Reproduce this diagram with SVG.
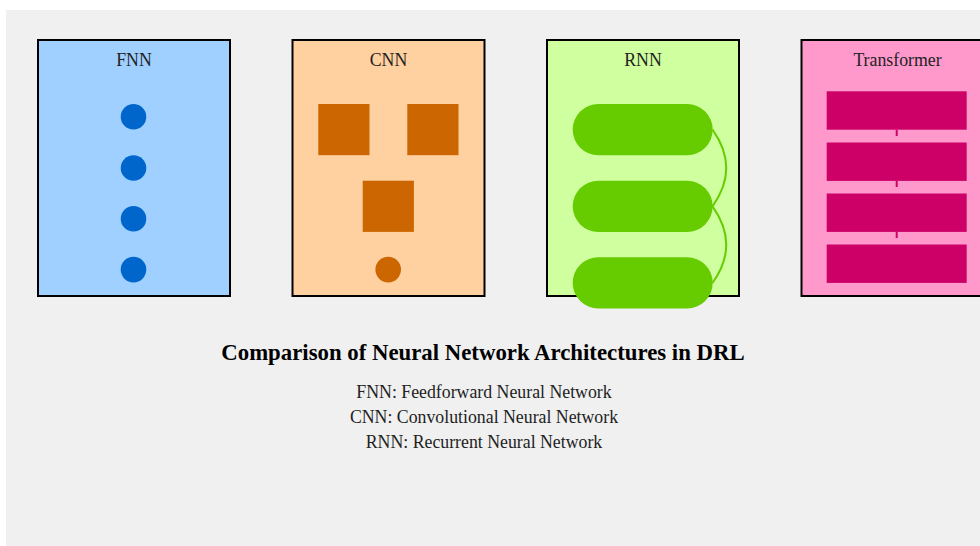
<svg xmlns="http://www.w3.org/2000/svg" width="980" height="546" viewBox="0 0 980 546">
<style>
.box{stroke:#000;stroke-width:2}
.lbl{font-family:"Liberation Serif","Times New Roman",serif;font-size:17.8px;fill:#222;text-anchor:middle}
.title{font-family:"Liberation Serif","Times New Roman",serif;font-size:22.8px;font-weight:bold;fill:#000;text-anchor:middle}
.sub{font-family:"Liberation Serif","Times New Roman",serif;font-size:17.8px;fill:#222;text-anchor:middle}
.fnn{fill:#0066cc}
.cnn{fill:#cc6600}
.rnn{fill:#66cc00}
.tr{fill:#cc0066}
</style>
<rect x="0" y="0" width="980" height="546" fill="#ffffff"/>
<rect x="6" y="10" width="980" height="536" fill="#f0f0f0"/>
<g id="fnn">
<rect class="box" x="38" y="40" width="192" height="256" fill="#a0d0ff"/>
<text class="lbl" x="134" y="66">FNN</text>
<circle class="fnn" cx="133.5" cy="116.8" r="12.8"/>
<circle class="fnn" cx="133.5" cy="168" r="12.8"/>
<circle class="fnn" cx="133.5" cy="218.8" r="12.8"/>
<circle class="fnn" cx="133.5" cy="269.6" r="12.8"/>
</g>
<g id="cnn">
<rect class="box" x="292.5" y="40" width="192" height="256" fill="#ffd0a0"/>
<text class="lbl" x="388.5" y="66">CNN</text>
<rect class="cnn" x="318.3" y="104" width="51.2" height="51.2"/>
<rect class="cnn" x="407.3" y="104" width="51.2" height="51.2"/>
<rect class="cnn" x="362.7" y="180.7" width="51.2" height="51.2"/>
<circle class="cnn" cx="388.2" cy="269.6" r="12.8"/>
</g>
<g id="rnn">
<rect class="box" x="547" y="40" width="192" height="256" fill="#d0ffa0"/>
<text class="lbl" x="643" y="66">RNN</text>
<rect class="rnn" x="572.7" y="104" width="140" height="51.2" rx="25.6"/>
<rect class="rnn" x="572.7" y="180.7" width="140" height="51.2" rx="25.6"/>
<rect class="rnn" x="572.7" y="257.3" width="140" height="51.2" rx="25.6"/>
</g>
<g id="transformer">
<rect class="box" x="801.5" y="40" width="192" height="256" fill="#ff99cc"/>
<text class="lbl" x="897.5" y="66">Transformer</text>
<rect class="tr" x="826.7" y="91.3" width="140" height="38.4"/>
<rect class="tr" x="826.7" y="142.5" width="140" height="38.4"/>
<rect class="tr" x="826.7" y="193.5" width="140" height="38.4"/>
<rect class="tr" x="826.7" y="244.5" width="140" height="38.4"/>
</g>
<g id="connectors" fill="none">
<path d="M712.5 129.6 Q740 168 712.5 206.3" stroke="#66cc00" stroke-width="2"/>
<path d="M712.5 206.3 Q740 244.6 712.5 283" stroke="#66cc00" stroke-width="2"/>
<line x1="896.7" y1="129.7" x2="896.7" y2="136" stroke="#cc0066" stroke-width="2"/>
<line x1="896.7" y1="180.9" x2="896.7" y2="187" stroke="#cc0066" stroke-width="2"/>
<line x1="896.7" y1="231.9" x2="896.7" y2="238" stroke="#cc0066" stroke-width="2"/>
</g>
<text class="title" x="483" y="360">Comparison of Neural Network Architectures in DRL</text>
<text class="sub" x="484" y="398">FNN: Feedforward Neural Network</text>
<text class="sub" x="484" y="423">CNN: Convolutional Neural Network</text>
<text class="sub" x="484" y="448">RNN: Recurrent Neural Network</text>
</svg>
